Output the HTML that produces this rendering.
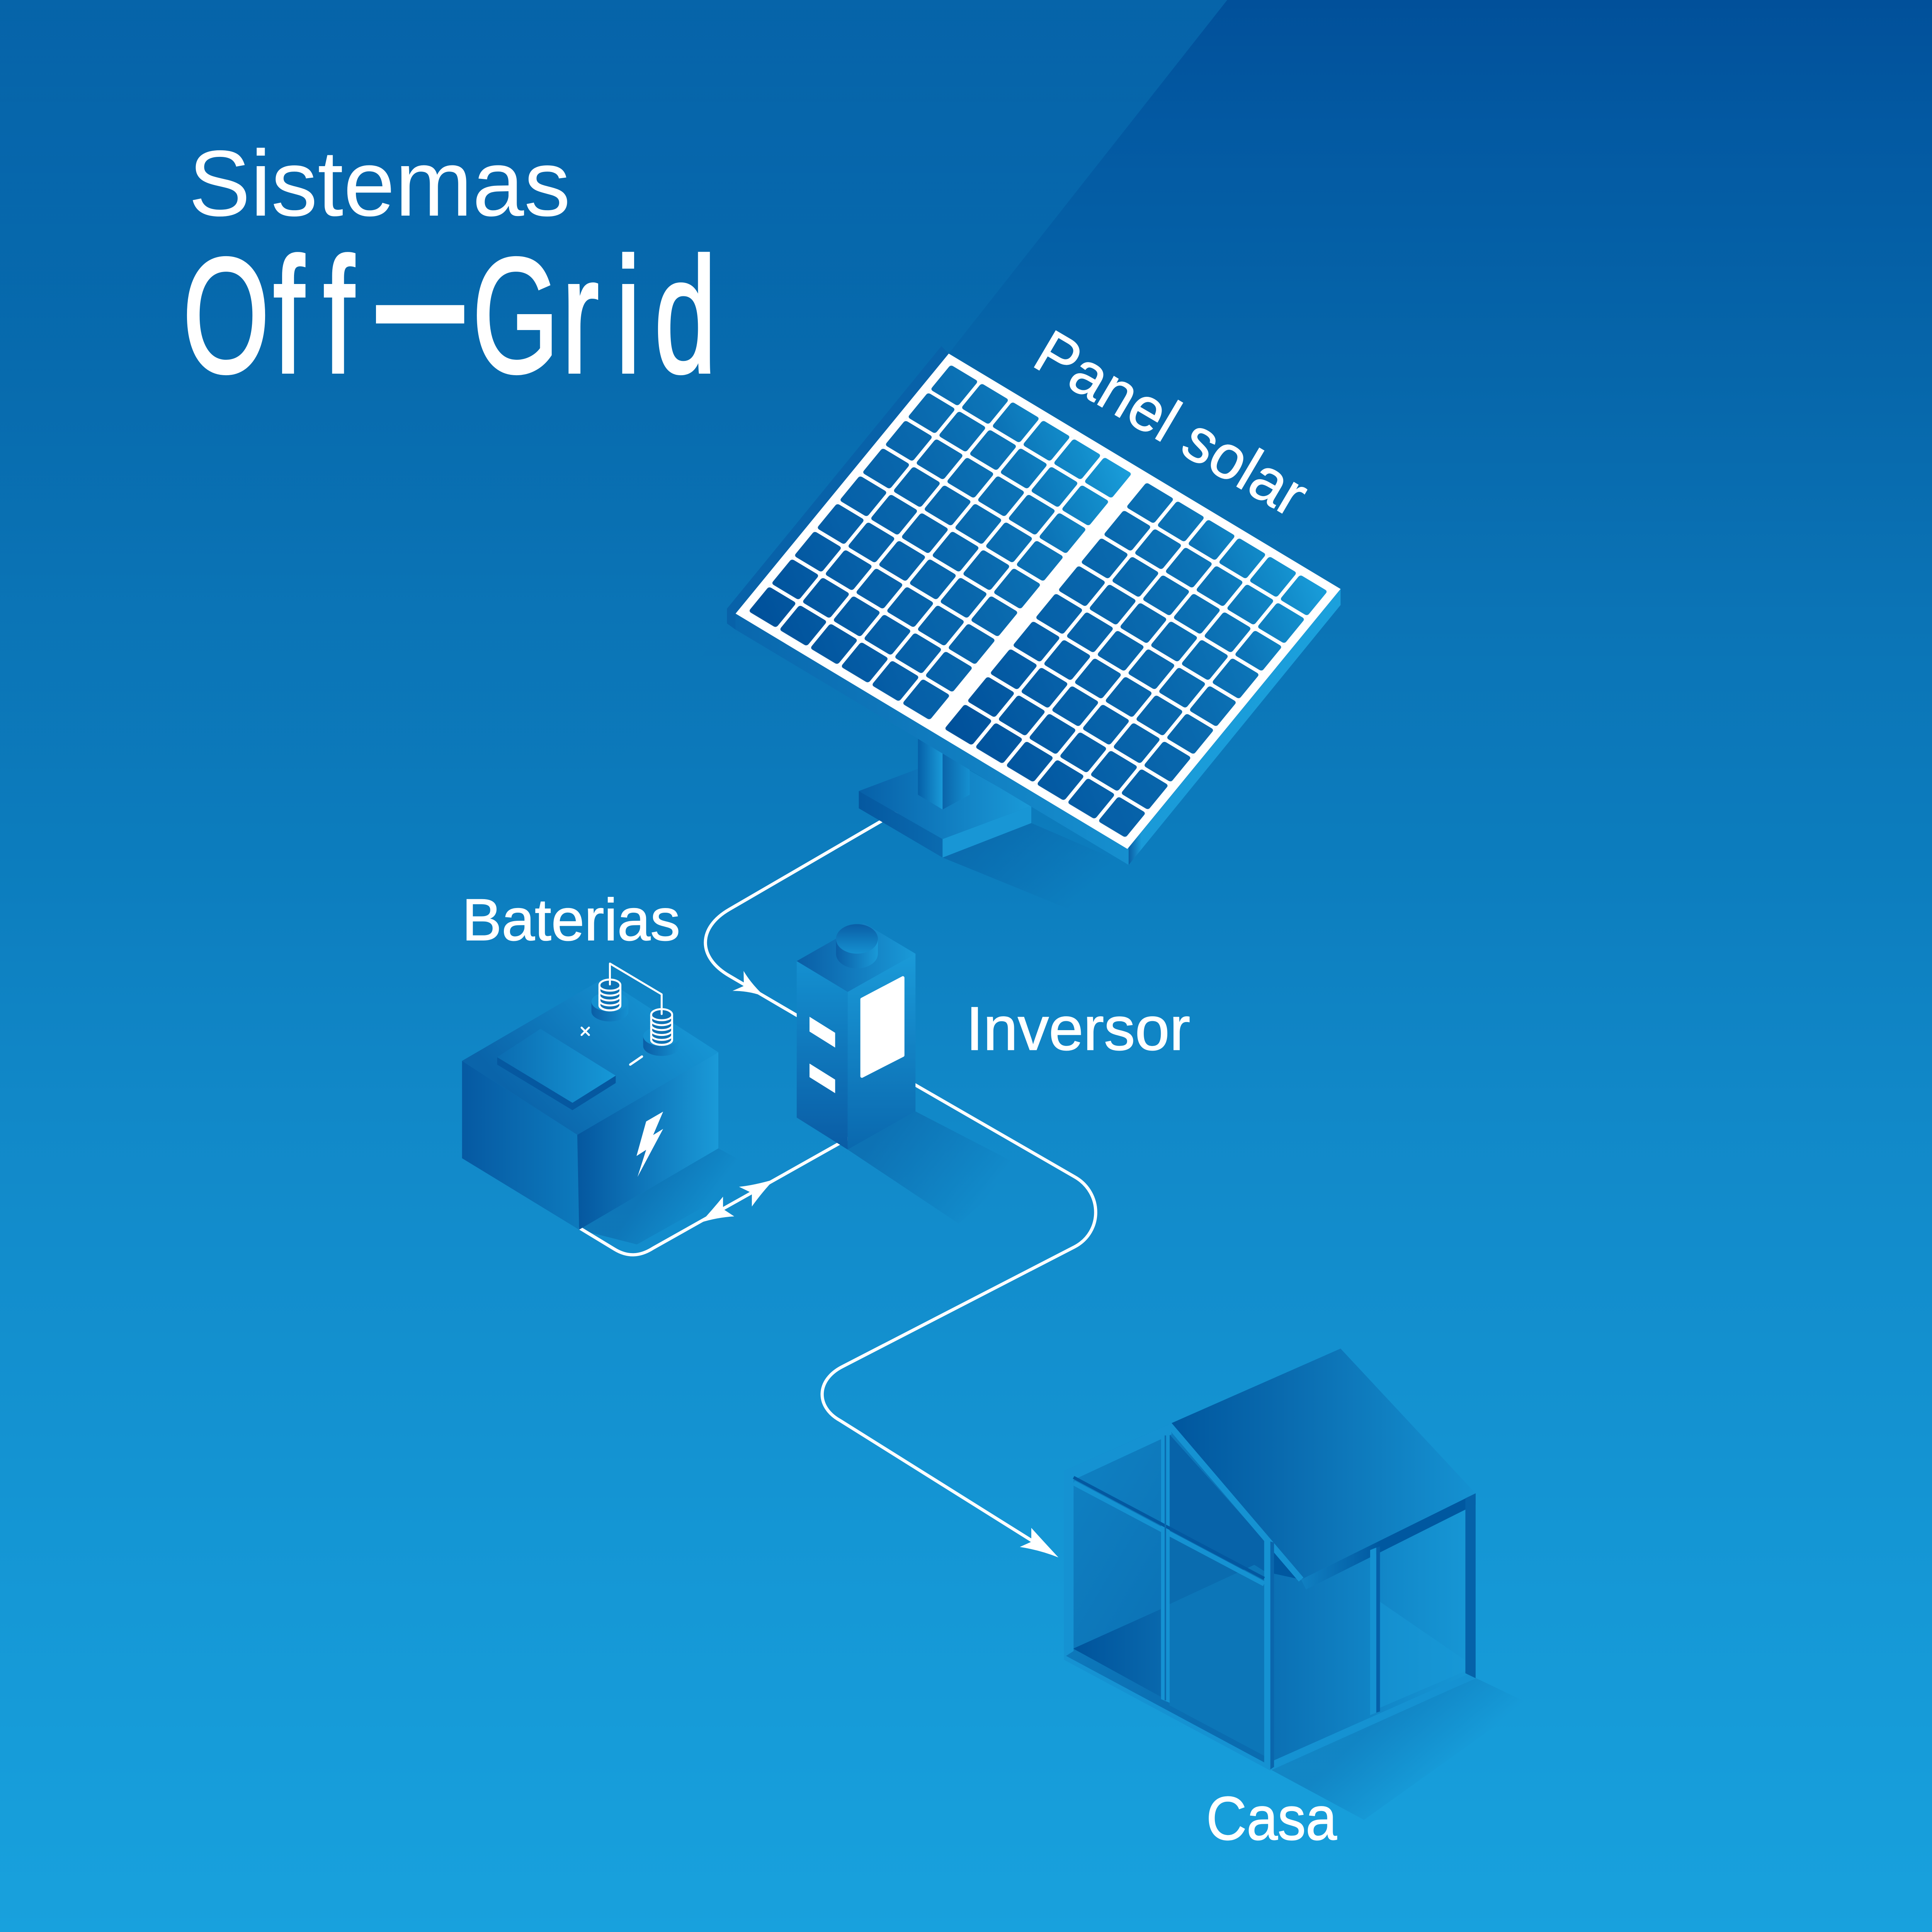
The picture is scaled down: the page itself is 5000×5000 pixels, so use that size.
<!DOCTYPE html>
<html><head><meta charset="utf-8">
<style>
html,body{margin:0;padding:0;background:#0a70b4;}
svg{display:block;}
text{font-family:"Liberation Sans",sans-serif;fill:#fff;font-variant-ligatures:none;}
</style></head><body>
<svg xmlns="http://www.w3.org/2000/svg" width="5000" height="5000" viewBox="0 0 1568 1568">
<defs>
 <linearGradient id="bg" gradientUnits="userSpaceOnUse" x1="0" y1="0" x2="0" y2="1568">
  <stop offset="0" stop-color="#01509a"/>
  <stop offset="0.064" stop-color="#0359a2"/>
  <stop offset="0.19" stop-color="#0666aa"/>
  <stop offset="0.32" stop-color="#0b74b6"/>
  <stop offset="0.45" stop-color="#0c7dbe"/>
  <stop offset="0.57" stop-color="#1188c8"/>
  <stop offset="0.70" stop-color="#1390cf"/>
  <stop offset="0.83" stop-color="#1598d6"/>
  <stop offset="1" stop-color="#18a1dd"/>
 </linearGradient>
 <linearGradient id="ov" gradientUnits="userSpaceOnUse" x1="0" y1="0" x2="0" y2="700">
  <stop offset="0" stop-color="#0a78b8" stop-opacity="0.5"/>
  <stop offset="0.5" stop-color="#0a78b8" stop-opacity="0.22"/>
  <stop offset="1" stop-color="#0a78b8" stop-opacity="0"/>
 </linearGradient>
 <linearGradient id="cellL" gradientUnits="userSpaceOnUse" x1="7" y1="266" x2="178" y2="7">
  <stop offset="0" stop-color="#00509a"/>
  <stop offset="0.3" stop-color="#0660a8"/>
  <stop offset="0.55" stop-color="#0968ad"/>
  <stop offset="0.75" stop-color="#0c74b7"/>
  <stop offset="0.9" stop-color="#128cca"/>
  <stop offset="1" stop-color="#1a9edb"/>
 </linearGradient>
 <linearGradient id="cellR" gradientUnits="userSpaceOnUse" x1="192.4" y1="266" x2="364" y2="7">
  <stop offset="0" stop-color="#00509a"/>
  <stop offset="0.3" stop-color="#0660a8"/>
  <stop offset="0.55" stop-color="#0968ad"/>
  <stop offset="0.75" stop-color="#0c74b7"/>
  <stop offset="0.9" stop-color="#128cca"/>
  <stop offset="1" stop-color="#1a9edb"/>
 </linearGradient>
 <pattern id="gridL" patternUnits="userSpaceOnUse" x="7" y="7" width="29.1" height="29.1">
  <path fill="#fff" fill-rule="evenodd" d="M0,0H29.1V29.1H0Z M2.5,0H23.6Q26.1,0 26.1,2.5V23.6Q26.1,26.1 23.6,26.1H2.5Q0,26.1 0,23.6V2.5Q0,0 2.5,0Z"/>
 </pattern>
 <pattern id="gridR" patternUnits="userSpaceOnUse" x="192.4" y="7" width="29.1" height="29.1">
  <path fill="#fff" fill-rule="evenodd" d="M0,0H29.1V29.1H0Z M2.5,0H23.6Q26.1,0 26.1,2.5V23.6Q26.1,26.1 23.6,26.1H2.5Q0,26.1 0,23.6V2.5Q0,0 2.5,0Z"/>
 </pattern>
 <linearGradient id="pSideL" gradientUnits="userSpaceOnUse" x1="597" y1="0" x2="916" y2="0">
  <stop offset="0" stop-color="#0967ad"/><stop offset="1" stop-color="#168fcf"/>
 </linearGradient>
 <linearGradient id="pSideR" gradientUnits="userSpaceOnUse" x1="916" y1="0" x2="1088" y2="0">
  <stop offset="0" stop-color="#0a5fa6"/><stop offset="0.06" stop-color="#1a9ad8"/><stop offset="1" stop-color="#1ba0dc"/>
 </linearGradient>
 <linearGradient id="baseT" gradientUnits="userSpaceOnUse" x1="697" y1="0" x2="837" y2="0">
  <stop offset="0" stop-color="#0760a8"/><stop offset="1" stop-color="#1a9ad8"/>
 </linearGradient>
 <linearGradient id="baseL" gradientUnits="userSpaceOnUse" x1="697" y1="0" x2="765" y2="0">
  <stop offset="0" stop-color="#0558a0"/><stop offset="1" stop-color="#0a6bb0"/>
 </linearGradient>
 <linearGradient id="postL" gradientUnits="userSpaceOnUse" x1="745" y1="0" x2="765" y2="0">
  <stop offset="0" stop-color="#0560a8"/><stop offset="1" stop-color="#1a9ad8"/>
 </linearGradient>
 <linearGradient id="postR" gradientUnits="userSpaceOnUse" x1="765" y1="0" x2="787" y2="0">
  <stop offset="0" stop-color="#0a64aa"/><stop offset="1" stop-color="#1590d0"/>
 </linearGradient>
 <linearGradient id="shP" gradientUnits="userSpaceOnUse" x1="800" y1="670" x2="870" y2="735">
  <stop offset="0" stop-color="#064f95" stop-opacity="0.35"/><stop offset="1" stop-color="#064f95" stop-opacity="0"/>
 </linearGradient>
 <linearGradient id="shI" gradientUnits="userSpaceOnUse" x1="715" y1="917" x2="800" y2="975">
  <stop offset="0" stop-color="#064f95" stop-opacity="0.4"/><stop offset="1" stop-color="#064f95" stop-opacity="0"/>
 </linearGradient>
 <linearGradient id="shB" gradientUnits="userSpaceOnUse" x1="525" y1="965" x2="565" y2="992">
  <stop offset="0" stop-color="#064f95" stop-opacity="0.35"/><stop offset="1" stop-color="#064f95" stop-opacity="0"/>
 </linearGradient>
 <linearGradient id="shH" gradientUnits="userSpaceOnUse" x1="1115" y1="1400" x2="1160" y2="1450">
  <stop offset="0" stop-color="#064f95" stop-opacity="0.3"/><stop offset="1" stop-color="#064f95" stop-opacity="0"/>
 </linearGradient>
 <linearGradient id="batL" gradientUnits="userSpaceOnUse" x1="375" y1="0" x2="470" y2="0">
  <stop offset="0" stop-color="#0659a2"/><stop offset="1" stop-color="#0d7abd"/>
 </linearGradient>
 <linearGradient id="batR" gradientUnits="userSpaceOnUse" x1="470" y1="0" x2="583" y2="0">
  <stop offset="0" stop-color="#0558a0"/><stop offset="1" stop-color="#1a9ad8"/>
 </linearGradient>
 <linearGradient id="batT" gradientUnits="userSpaceOnUse" x1="540" y1="810" x2="430" y2="905">
  <stop offset="0" stop-color="#1694d3"/><stop offset="1" stop-color="#0a64aa"/>
 </linearGradient>
 <linearGradient id="lidT" gradientUnits="userSpaceOnUse" x1="403" y1="0" x2="500" y2="0">
  <stop offset="0" stop-color="#0b6cb1"/><stop offset="1" stop-color="#1698d7"/>
 </linearGradient>
 <linearGradient id="termS" gradientUnits="objectBoundingBox" x1="0" y1="0" x2="1" y2="0">
  <stop offset="0" stop-color="#0a5ea6"/><stop offset="1" stop-color="#1590d0"/>
 </linearGradient>
 <linearGradient id="invL" gradientUnits="userSpaceOnUse" x1="0" y1="780" x2="0" y2="933">
  <stop offset="0" stop-color="#1490d0"/><stop offset="1" stop-color="#0a5ca5"/>
 </linearGradient>
 <linearGradient id="invR" gradientUnits="userSpaceOnUse" x1="0" y1="774" x2="0" y2="933">
  <stop offset="0" stop-color="#1a9ad8"/><stop offset="1" stop-color="#0a68ae"/>
 </linearGradient>
 <linearGradient id="invT" gradientUnits="userSpaceOnUse" x1="647" y1="0" x2="743" y2="0">
  <stop offset="0" stop-color="#0a5ea6"/><stop offset="1" stop-color="#1a9ad8"/>
 </linearGradient>
 <linearGradient id="capS" gradientUnits="userSpaceOnUse" x1="678" y1="0" x2="713" y2="0">
  <stop offset="0" stop-color="#0a5ea6"/><stop offset="1" stop-color="#1a9ad8"/>
 </linearGradient>
 <linearGradient id="capT" gradientUnits="userSpaceOnUse" x1="0" y1="750" x2="0" y2="774">
  <stop offset="0" stop-color="#0a5ea6"/><stop offset="1" stop-color="#1590d0"/>
 </linearGradient>
 <linearGradient id="roofG" gradientUnits="userSpaceOnUse" x1="948" y1="0" x2="1198" y2="0">
  <stop offset="0" stop-color="#00569e"/><stop offset="0.4" stop-color="#0a6cb0"/><stop offset="1" stop-color="#1592d2"/>
 </linearGradient>
 <linearGradient id="wallR" gradientUnits="userSpaceOnUse" x1="1033" y1="0" x2="1198" y2="0">
  <stop offset="0" stop-color="#0b70b4"/><stop offset="0.6" stop-color="#1289ca"/><stop offset="1" stop-color="#1798d6"/>
 </linearGradient>
 <linearGradient id="frontG" gradientUnits="userSpaceOnUse" x1="863" y1="1200" x2="1031" y2="1300">
  <stop offset="0" stop-color="#0f80c2"/><stop offset="1" stop-color="#0a6cb0"/>
 </linearGradient>
 <linearGradient id="floorL" gradientUnits="userSpaceOnUse" x1="871" y1="0" x2="942" y2="0">
  <stop offset="0" stop-color="#00539b"/><stop offset="1" stop-color="#0968ad"/>
 </linearGradient>
 <linearGradient id="eaveG" gradientUnits="userSpaceOnUse" x1="1056" y1="0" x2="1120" y2="0">
  <stop offset="0" stop-color="#1080c2"/><stop offset="1" stop-color="#0058a0"/>
 </linearGradient>
</defs>

<!-- background -->
<rect x="0" y="0" width="1568" height="1568" fill="url(#bg)"/>
<polygon points="0,0 996,0 770,287 597,498 420,720 0,1100" fill="url(#ov)"/>

<!-- floor shadows -->
<polygon points="765,696 837,668 916,702 868,738" fill="url(#shP)"/>
<polygon points="688,933 743,902 830,947 778,993" fill="url(#shI)"/>
<polygon points="583,932 620,952 517,1010 470,998" fill="url(#shB)"/>
<polygon points="1031,1436 1198,1362 1240,1382 1107,1477" fill="url(#shH)"/>

<!-- wires -->
<g fill="none" stroke="#fff" stroke-width="2.6" stroke-linecap="round" stroke-linejoin="round">
 <path d="M728,659 L592,738 C566,753 566,777 592,792 L650,826"/>
 <path d="M690,923 L530,1013 C519,1020 509,1020 499,1014 L471,997"/>
 <path d="M735,876 L872,955 C895,968 895,1000 872,1012 L684,1109 C662,1120 662,1142 682,1153 L848,1257"/>
</g>
<g fill="#fff">
 <path d="M621,809 Q610,799 603.5,788 L603.7,800.2 L594.5,804.2 Q608,804 621,809 Z"/>
 <path d="M628.4,957.2 Q612,962 599.8,963.2 L610.2,968.2 L610.2,979.2 Q619,967 628.4,957.2 Z"/>
 <path d="M568.6,992.2 Q578,982 586.8,971.2 L586.8,981.2 L595.9,987.2 Q582,988 568.6,992.2 Z"/>
 <path d="M859,1264 Q846,1250 837,1240 L837,1251.3 L827.7,1255.5 Q844,1258 859,1264 Z"/>
</g>

<!-- panel stand: base first, then post -->
<polygon points="697,642 765,681 765,696 697,656" fill="url(#baseL)"/>
<polygon points="765,681 837,654 837,668 765,696" fill="#1896d5"/>
<polygon points="697,642 769,615 837,654 765,681" fill="url(#baseT)"/>
<polygon points="745,585 765,597 765,657 745,645" fill="url(#postL)"/>
<polygon points="765,597 787,585 787,645 765,657" fill="url(#postR)"/>

<!-- panel sides -->
<polygon points="770,287 597,498 597,511 590,506 590,494 764,281" fill="#0862a9"/>
<polygon points="597,498 916,688 916,702 597,511" fill="url(#pSideL)"/>
<polygon points="916,688 1088,478 1088,491 916,702" fill="url(#pSideR)"/>

<!-- panel top -->
<g transform="matrix(0.8571 0.5148 -0.6337 0.7729 770 287)">
 <rect x="0" y="0" width="371" height="273" fill="#fff"/>
 <rect x="7" y="7" width="171.6" height="259" fill="url(#cellL)"/>
 <rect x="192.4" y="7" width="171.6" height="259" fill="url(#cellR)"/>
 <rect x="7" y="7" width="171.6" height="259" fill="url(#gridL)"/>
 <rect x="192.4" y="7" width="171.6" height="259" fill="url(#gridR)"/>
</g>

<!-- battery -->
<polygon points="375,861 468.5,921 470,998 375,940" fill="url(#batL)"/>
<polygon points="468.5,921 583,854 583,932 470,998" fill="url(#batR)"/>
<polygon points="476,929 579,868 579,928 476,990" fill="url(#batR)" opacity="0.6"/>
<polygon points="375,861 490,794 583,854 468.5,921" fill="url(#batT)"/>
<polygon points="403.5,858 464.6,895 499.7,873 499.7,879 464.6,901 403.5,864" fill="#0558a0"/>
<polygon points="403.5,858 438.6,835 499.7,873 464.6,895" fill="url(#lidT)"/>
<!-- terminals -->
<path d="M480,813 v8 a15,8 0 0 0 30,0 v-8 z" fill="url(#termS)"/>
<ellipse cx="495" cy="813" rx="15" ry="8" fill="#1590d0"/>
<path d="M522,841 v8 a15,8 0 0 0 30,0 v-8 z" fill="url(#termS)"/>
<ellipse cx="537" cy="841" rx="15" ry="8" fill="#1590d0"/>
<g fill="none" stroke="#fff" stroke-width="1.6" stroke-linecap="round" stroke-linejoin="round">
 <rect x="486.5" y="795" width="17" height="25" rx="8.5" ry="4.5" fill="#0d74b7"/>
 <path d="M486.5,800 a8.5,4 0 0 0 17,0 M486.5,804 a8.5,4 0 0 0 17,0 M486.5,808 a8.5,4 0 0 0 17,0 M486.5,812 a8.5,4 0 0 0 17,0 M486.5,816 a8.5,4 0 0 0 17,0"/>
 <rect x="528.5" y="819" width="17" height="29" rx="8.5" ry="4.5" fill="#0d74b7"/>
 <path d="M528.5,824 a8.5,4 0 0 0 17,0 M528.5,828 a8.5,4 0 0 0 17,0 M528.5,832 a8.5,4 0 0 0 17,0 M528.5,836 a8.5,4 0 0 0 17,0 M528.5,840 a8.5,4 0 0 0 17,0 M528.5,844 a8.5,4 0 0 0 17,0"/>
 <path d="M495,799 V782 L537,807 V823"/>
 <path d="M472,834 L478,840 M478,834 L472,840"/>
 <path d="M511.5,864 L521,857.5" stroke-width="1.9"/>
</g>
<polygon points="538.2,902.2 530.1,921.2 538.2,916.2 517.4,955.2 524.4,933.2 516.6,938.2 524.4,910.2" fill="#fff"/>

<!-- inverter -->
<polygon points="646.6,780 688,805 688,933 646.6,907" fill="url(#invL)"/>
<polygon points="688,805 743,774 743,902 688,933" fill="url(#invR)"/>
<polygon points="646.6,780 701,749 743,774 688,805" fill="url(#invT)"/>
<path d="M678.5,762 v12 a17,12 0 0 0 34,0 v-12 z" fill="url(#capS)"/>
<ellipse cx="695.5" cy="762" rx="17" ry="12" fill="url(#capT)"/>
<polygon points="657,825.2 677.8,838.2 677.8,850.2 657,837.2" fill="#fff"/>
<polygon points="657,863.2 677.8,876.2 677.8,887.2 657,874.2" fill="#fff"/>
<polygon points="699.5,811 732.8,793.5 732.8,856.5 699.5,873.5" fill="#fff" stroke="#fff" stroke-width="2.5" stroke-linejoin="round"/>

<!-- house -->
<polygon points="863.5,1194 948.5,1156 1031,1250 1031,1436 863.5,1345" fill="url(#frontG)"/>
<polygon points="949,1164 1026,1250 1026,1283 949,1242" fill="#0763a9"/>
<polygon points="949,1246 1026,1287 1026,1425 949,1384" fill="#0a6caf"/>
<polygon points="949,1302 1018,1270 1026,1275 1026,1425 949,1384" fill="#0c76b8"/>
<polygon points="871,1338 942,1306 942,1377" fill="url(#floorL)"/>
<polygon points="1033,1277 1056,1282 1197.6,1212 1197.6,1362 1033,1436" fill="url(#wallR)"/>
<polygon points="1120,1300 1190,1348 1190,1356 1120,1386" fill="#1899d7" opacity="0.5"/>
<polygon points="1031,1250 1056,1282 1033,1277" fill="#0058a0"/>
<polygon points="948.5,1156 1088,1094.5 1197.6,1212 1056,1282" fill="url(#roofG)"/>
<polygon points="1056,1282 1197.6,1212 1197.6,1221 1060,1290" fill="url(#eaveG)"/>
<!-- frame members -->
<g fill="#1592d2">
 <polygon points="863.5,1194 871.3,1198 871.3,1340 863.5,1345"/>
 <polygon points="863.5,1194 948.5,1156 951,1164 871.3,1201"/>
 <polygon points="942.3,1160 949.3,1163 949.3,1382 942.3,1379"/>
 <polygon points="1026,1247 1031,1250 1031,1436 1026,1432"/>
 <polygon points="1112,1258 1117,1256 1117,1390 1112,1392"/>
 <polygon points="1031,1430 1197.6,1356 1197.6,1362 1031,1437"/>
 <polygon points="863.5,1343 1031,1433 1031,1437 863.5,1347"/>
</g>
<line x1="871.3" y1="1199" x2="1026" y2="1281" stroke="#0358a0" stroke-width="2.5"/>
<line x1="871.3" y1="1203.5" x2="1026" y2="1285.5" stroke="#1592d2" stroke-width="4"/>
<line x1="945.8" y1="1165" x2="945.8" y2="1380" stroke="#0a6aae" stroke-width="1.2"/>
<line x1="948.5" y1="1156" x2="1056" y2="1282" stroke="#1592d2" stroke-width="5"/>
<polygon points="1031,1251 1034,1252 1034,1434 1031,1436" fill="#0a66ac"/>
<polygon points="1117,1256 1120,1255 1120,1389 1117,1390" fill="#0560a8"/>
<polygon points="1189.3,1216 1197.6,1212 1197.6,1362 1189.3,1358" fill="#0562a9"/>

<!-- text -->
<text x="153" y="175" font-size="76" textLength="310" lengthAdjust="spacingAndGlyphs">Sistemas</text>
<text transform="translate(0,302) scale(0.68,1)" font-size="133" stroke="#fff" stroke-width="2.5"><tspan x="218.1 326.2 385.9">Off</tspan><tspan x="450" font-size="185">–</tspan><tspan x="563.7 670.6 735 781">Grid</tspan></text>
<g stroke="#fff" stroke-width="0.6">
 <text transform="translate(836,296) rotate(30.5)" font-size="50" textLength="246" lengthAdjust="spacingAndGlyphs">Panel solar</text>
 <text x="375" y="763" font-size="48" textLength="177" lengthAdjust="spacingAndGlyphs">Baterias</text>
 <text x="784" y="852" font-size="50" textLength="182" lengthAdjust="spacingAndGlyphs">Inversor</text>
 <text x="979" y="1493" font-size="50" textLength="106" lengthAdjust="spacingAndGlyphs">Casa</text>
</g>
</svg>
</body></html>
